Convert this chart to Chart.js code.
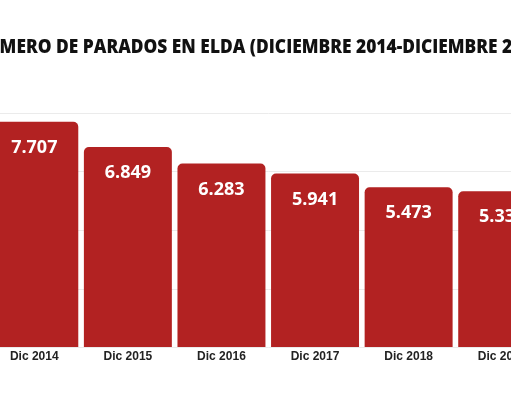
<!DOCTYPE html>
<html>
<head>
<meta charset="utf-8">
<script src="https://cdn.jsdelivr.net/npm/chart.js@4/dist/chart.umd.min.js"></script>
<style>
  html, body { margin: 0; padding: 0; background: #fff; overflow: hidden; }
  .wrap { position: absolute; left: -28px; top: 0; width: 577px; height: 400px; }
</style>
</head>
<body>
<div class="wrap"><canvas id="chart"></canvas></div>
<script>
const years = ['Dic 2014', 'Dic 2015', 'Dic 2016', 'Dic 2017', 'Dic 2018', 'Dic 2019']
const parados = [7707, 6849, 6283, 5941, 5473, 5334]
const yTicks = [0, 2000, 4000, 6000, 8000]

const titleText = 'NÚMERO DE PARADOS EN ELDA (DICIEMBRE 2014-DICIEMBRE 2019)'

// 7707 -> "7.707"
const fmt = v => String(v).replace(/\B(?=(\d{3})+(?!\d))/g, '.')

const barLabels = {
    id: 'barLabels',
    afterDatasetsDraw(chart) {
        const ctx = chart.ctx
        const meta = chart.getDatasetMeta(0)
        ctx.save()
        ctx.fillStyle = '#ffffff'
        ctx.font = 'bold 18px "Open Sans"'
        ctx.textAlign = 'center'
        ctx.textBaseline = 'middle'
        meta.data.forEach((bar, i) => {
            ctx.fillText(fmt(parados[i]), bar.x, bar.y + 26)
        })
        ctx.restore()
    }
}

new Chart(document.getElementById('chart').getContext('2d'), {
    type: 'bar',
    data: {
        labels: years,
        datasets: [{
            data: parados,
            backgroundColor: '#b22222',
            borderRadius: { topLeft: 5, topRight: 5 },
            borderSkipped: 'bottom',
            barPercentage: 0.94,
            categoryPercentage: 1
        }]
    },
    options: {
        responsive: true,
        maintainAspectRatio: false,
        animation: false,
        layout: { padding: { top: 0, bottom: 34, left: 0, right: 0 } },
        plugins: {
            legend: { display: false },
            tooltip: { enabled: false },
            title: {
                display: true,
                text: titleText,
                color: '#111',
                font: { family: 'Open Sans', size: 18.5, weight: 800 },
                padding: { top: 37, bottom: 54 }
            }
        },
        scales: {
            x: {
                grid: { display: false, drawTicks: false },
                border: { display: false },
                ticks: {
                    color: '#222',
                    padding: 2,
                    font: { family: 'Liberation Sans', size: 12, weight: 'bold' }
                }
            },
            y: {
                min: 0,
                max: 8000,
                afterBuildTicks: scale => { scale.ticks = yTicks.map(v => ({ value: v })) },
                afterFit: scale => { scale.width = 15.5 },
                ticks: { display: false },
                border: { display: false },
                grid: { color: '#ebebeb', drawTicks: false }
            }
        }
    },
    plugins: [barLabels]
})
</script>
</body>
</html>
